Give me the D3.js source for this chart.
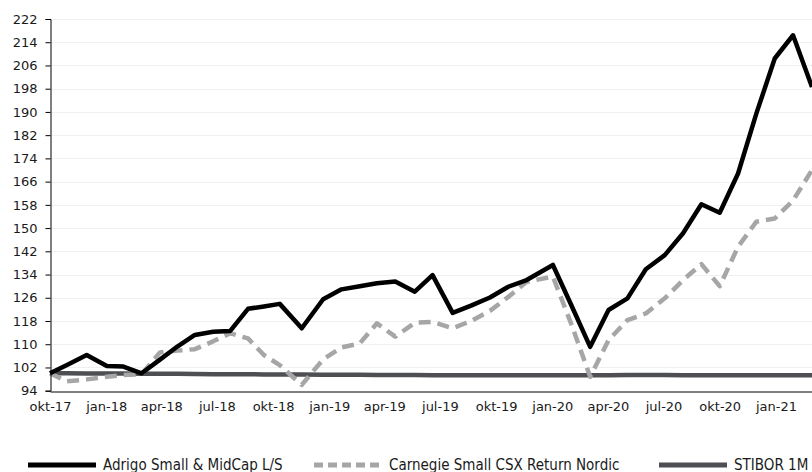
<!DOCTYPE html>
<html>
<head>
<meta charset="utf-8">
<script src="https://cdn.jsdelivr.net/npm/d3@7"></script>
<style>
  body { margin: 0; background: #fff; }
  svg { display: block; }
  .axis text { font-family: "DejaVu Sans", Verdana, sans-serif; font-size: 13px; fill: #1a1a1a; }
  .legend text { font-family: "Liberation Sans Narrow", "DejaVu Sans Condensed", sans-serif; font-size: 15px; fill: #1a1a1a; }
</style>
</head>
<body>
<svg id="chart"></svg>
<script>
// Data (index, okt-17 = 100)
const dates = [
  "2017-10-01", "2017-10-28", "2017-11-30", "2018-01-02", "2018-01-29", "2018-02-28",
  "2018-03-30", "2018-04-28", "2018-05-26", "2018-06-25", "2018-07-23", "2018-08-21",
  "2018-09-16", "2018-10-12", "2018-11-17", "2018-12-22", "2019-01-21", "2019-02-20",
  "2019-03-20", "2019-04-19", "2019-05-21", "2019-06-19", "2019-07-22", "2019-08-21",
  "2019-09-21", "2019-10-21", "2019-11-20", "2020-01-02", "2020-02-01", "2020-03-03",
  "2020-04-02", "2020-05-03", "2020-06-02", "2020-07-03", "2020-08-02", "2020-09-01",
  "2020-10-01", "2020-10-31", "2020-11-30", "2020-12-30", "2021-01-29", "2021-03-01"
];

const adrigo = [
  100, 102.8, 106.3, 102.5, 102.3, 100.0,
  104.7, 109.3, 113.2, 114.3, 114.6, 122.2,
  123.0, 123.9, 115.5, 125.5, 128.9, 130.0,
  131.0, 131.6, 128.1, 133.8, 120.8, 123.3,
  126.1, 129.8, 132.1, 137.3, 123.5, 109.1,
  121.8, 125.8, 135.8, 140.7, 148.2, 158.2,
  155.3, 168.8, 189.5, 208.4, 216.4, 198.6
];

const carnegie = [
  100, 97.2, 97.9, 98.8, 99.4, 99.7,
  107.2, 107.8, 108.3, 111.0, 113.8, 112.0,
  106.3, 102.8, 96.0, 104.8, 108.9, 110.3,
  117.2, 112.6, 117.4, 117.7, 115.5, 118.0,
  121.5, 126.3, 131.5, 133.3, 117.0, 98.8,
  111.4, 118.3, 120.6, 125.8, 132.1, 137.6,
  130.0, 143.6, 152.2, 153.3, 159.5, 170.0
];

const stibor = [
  100, 100, 99.95, 99.9, 99.9, 99.85,
  99.8, 99.8, 99.75, 99.7, 99.7, 99.65,
  99.6, 99.6, 99.55, 99.5, 99.5, 99.45,
  99.4, 99.4, 99.4, 99.35, 99.35, 99.3,
  99.3, 99.3, 99.3, 99.3, 99.3, 99.3,
  99.35, 99.4, 99.4, 99.4, 99.35, 99.35,
  99.3, 99.3, 99.3, 99.3, 99.3, 99.3
];

const seriesNames = ["Adrigo Small & MidCap L/S", "Carnegie Small CSX Return Nordic", "STIBOR 1M"];
const yTicks = [94, 102, 110, 118, 126, 134, 142, 150, 158, 166, 174, 182, 190, 198, 206, 214, 222];
const xTickDates = [
  "2017-10-01", "2018-01-01", "2018-04-01", "2018-07-01", "2018-10-01", "2019-01-01",
  "2019-04-01", "2019-07-01", "2019-10-01", "2020-01-01", "2020-04-01", "2020-07-01",
  "2020-10-01", "2021-01-01"
];
const monthNames = ["jan", "feb", "mar", "apr", "maj", "jun", "jul", "aug", "sep", "okt", "nov", "dec"];

// Chart dimensions
const W = 812, H = 472;
const margin = { top: 19, right: 0, bottom: 81, left: 50 };
const plotBottom = 390.7;

const parse = d3.timeParse("%Y-%m-%d");

const x = d3.scaleTime()
  .domain([parse("2017-10-01"), parse("2021-03-01")])
  .range([margin.left, W]);

const y = d3.scaleLinear()
  .domain([94, 222])
  .range([plotBottom, margin.top]);

const svg = d3.select("#chart").attr("width", W).attr("height", H);

// Gridlines
svg.append("g")
  .selectAll("line")
  .data(yTicks.slice(1))
  .join("line")
  .attr("x1", margin.left)
  .attr("x2", W)
  .attr("y1", d => Math.round(y(d)) + 0.5)
  .attr("y2", d => Math.round(y(d)) + 0.5)
  .attr("stroke", "#f0f0f0")
  .attr("stroke-width", 1);

// Lines
const series = [
  { name: seriesNames[2], values: stibor, color: "#4d4f53", width: 4.5, dash: null },
  { name: seriesNames[1], values: carnegie, color: "#a6a6a6", width: 4.5, dash: "12,7" },
  { name: seriesNames[0], values: adrigo, color: "#000000", width: 4.5, dash: null }
];

const line = d3.line()
  .x((d, i) => x(parse(dates[i])))
  .y(d => y(d));

svg.append("g")
  .selectAll("path")
  .data(series)
  .join("path")
  .attr("fill", "none")
  .attr("stroke", d => d.color)
  .attr("stroke-width", d => d.width)
  .attr("stroke-dasharray", d => d.dash)
  .attr("stroke-linejoin", "round")
  .attr("d", d => line(d.values));

// Y axis
const yAxis = svg.append("g")
  .attr("class", "axis")
  .attr("transform", `translate(${margin.left + 0.5},0)`)
  .call(d3.axisLeft(y).tickValues(yTicks).tickSize(5).tickPadding(8));
yAxis.select(".domain").attr("stroke", "#000");
yAxis.selectAll(".tick line").attr("stroke", "#000");

// X axis
const xAxis = svg.append("g")
  .attr("class", "axis")
  .attr("transform", `translate(0,${Math.round(plotBottom) + 0.5})`)
  .call(d3.axisBottom(x)
    .tickValues(xTickDates.map(parse))
    .tickSize(0)
    .tickPadding(10)
    .tickFormat(d => monthNames[d.getMonth()] + "-" + d3.timeFormat("%y")(d)));
xAxis.select(".domain").attr("stroke", "#000");

// Legend
const legendItems = [
  { name: seriesNames[0], color: "#000000", dash: null, x: 28 },
  { name: seriesNames[1], color: "#a6a6a6", dash: "9,5", x: 314 },
  { name: seriesNames[2], color: "#4d4f53", dash: null, x: 659 }
];
const legendY = 465;
const legend = svg.append("g").attr("class", "legend");
const li = legend.selectAll("g").data(legendItems).join("g")
  .attr("transform", d => `translate(${d.x},${legendY})`);
li.append("line")
  .attr("x1", 0).attr("x2", 68)
  .attr("stroke", d => d.color)
  .attr("stroke-width", 5)
  .attr("stroke-dasharray", d => d.dash);
li.append("text")
  .attr("x", 75)
  .attr("dy", "0.35em")
  .text(d => d.name);
</script>
</body>
</html>
